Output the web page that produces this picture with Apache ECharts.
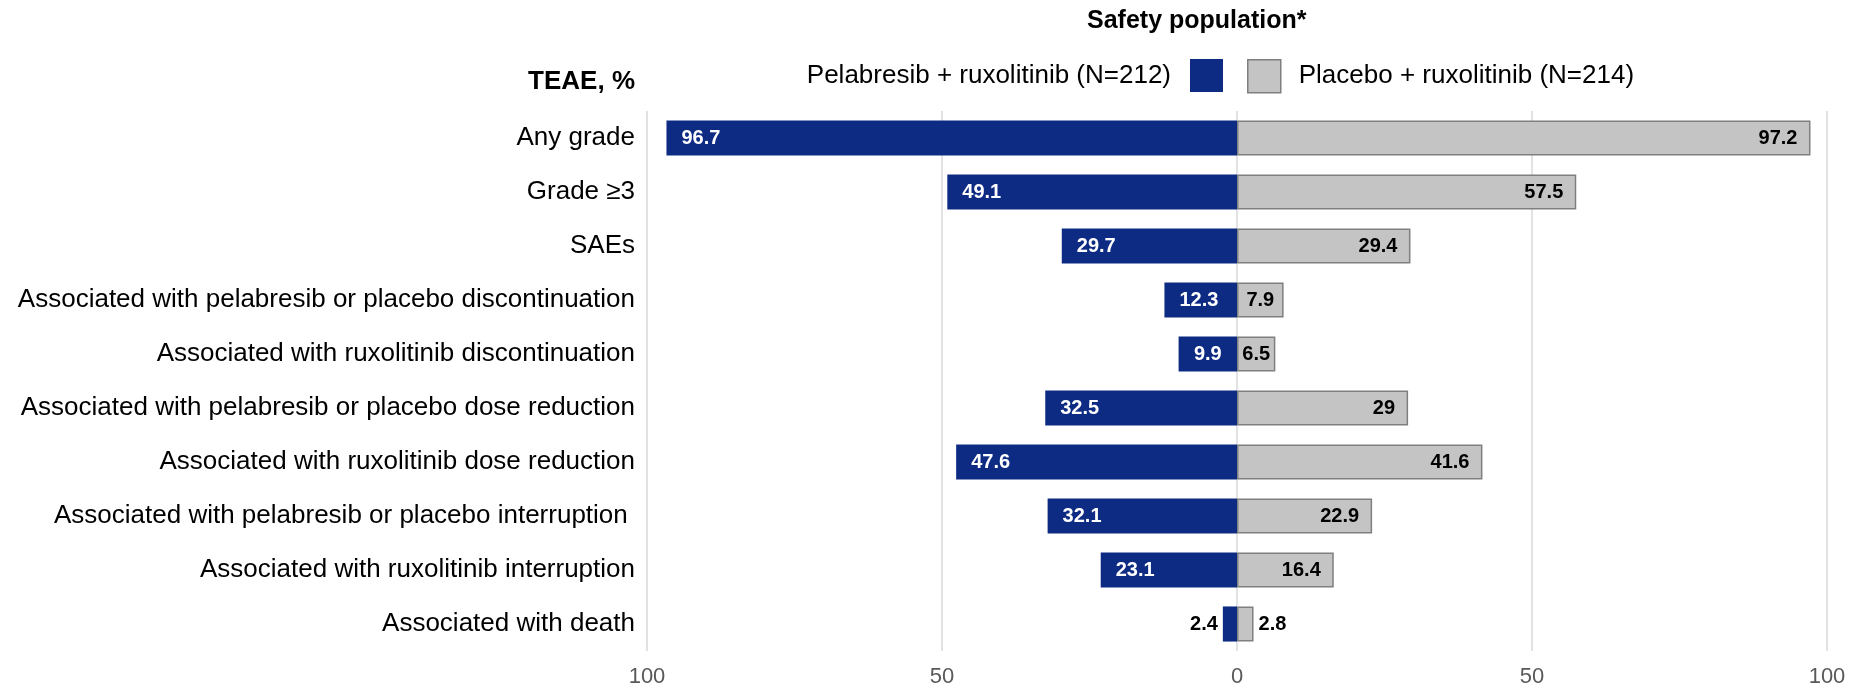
<!DOCTYPE html>
<html>
<head>
<meta charset="utf-8">
<script src="https://cdn.jsdelivr.net/npm/echarts@6/dist/echarts.min.js"></script>
<style>
  html, body { margin: 0; padding: 0; background: #fff; }
  #chart { width: 1857px; height: 688px; }
</style>
</head>
<body>
<div id="chart"></div>
<script>
const categories = [
  'Any grade',
  'Grade \u22653',
  'SAEs',
  'Associated with pelabresib or placebo discontinuation',
  'Associated with ruxolitinib discontinuation',
  'Associated with pelabresib or placebo dose reduction',
  'Associated with ruxolitinib dose reduction',
  'Associated with pelabresib or placebo interruption ',
  'Associated with ruxolitinib interruption',
  'Associated with death'
]
const pelabresib = [96.7, 49.1, 29.7, 12.3, 9.9, 32.5, 47.6, 32.1, 23.1, 2.4]
const placebo = [97.2, 57.5, 29.4, 7.9, 6.5, 29, 41.6, 22.9, 16.4, 2.8]
const seriesNames = ['Pelabresib + ruxolitinib (N=212)', 'Placebo + ruxolitinib (N=214)']
const axisTicks = [-100, -50, 0, 50, 100]

const FONT = '"Liberation Sans", Arial, sans-serif'
const BLUE = '#0e2b84'
const GREY = '#c4c4c4'

const chart = echarts.init(document.getElementById('chart'))

// small values get their label outside / centered
const blueData = pelabresib.map(v => {
  const item = { value: -v }
  if (v < 5) item.label = { position: 'left', color: '#000', distance: 5 }
  else if (v < 11) item.label = { position: 'inside' }
  return item
})
const greyData = placebo.map(v => {
  const item = { value: v }
  if (v < 5) item.label = { position: 'right', distance: 5 }
  else if (v < 11) item.label = { position: 'inside' }
  return item
})

const option = {
  animation: false,
  textStyle: { fontFamily: FONT },
  graphic: [
    {
      type: 'text', left: 1237 - 150, top: 9,
      style: { text: 'Safety population*', font: 'bold 25px ' + FONT, fill: '#000', width: 300, align: 'center' }
    },
    {
      type: 'text', right: 1857 - 635, top: 69,
      style: { text: 'TEAE, %', font: 'bold 26px ' + FONT, fill: '#000' }
    }
  ],
  legend: [
    {
      data: [seriesNames[0]],
      right: 1857 - 1228,
      top: 54,
      align: 'right',
      itemWidth: 33,
      itemHeight: 33,
      icon: 'rect',
      textStyle: { fontSize: 26, color: '#000', fontFamily: FONT, padding: [0, 14, 0, 0] }
    },
    {
      data: [seriesNames[1]],
      left: 1242,
      top: 54,
      align: 'left',
      itemWidth: 33,
      itemHeight: 33,
      icon: 'rect',
      itemStyle: { borderColor: '#7f7f7f', borderWidth: 1.5 },
      textStyle: { fontSize: 26, color: '#000', fontFamily: FONT, padding: [0, 0, 0, 13] }
    }
  ],
  grid: {
    left: 647,
    right: 30,
    top: 111,
    bottom: 37
  },
  xAxis: {
    type: 'value',
    min: axisTicks[0],
    max: axisTicks[axisTicks.length - 1],
    interval: 50,
    axisLine: { show: false },
    axisTick: { show: false },
    splitLine: { lineStyle: { color: '#d9d9d9', width: 1.5 } },
    axisLabel: {
      fontSize: 22,
      color: '#595959',
      margin: 15,
      fontFamily: FONT,
      formatter: v => Math.abs(v)
    }
  },
  yAxis: {
    type: 'category',
    inverse: true,
    data: categories,
    axisLine: { show: false },
    axisTick: { show: false },
    axisLabel: {
      fontSize: 26,
      color: '#000',
      margin: 12,
      fontFamily: FONT
    }
  },
  series: [
    {
      name: seriesNames[0],
      type: 'bar',
      stack: 'teae',
      barCategoryGap: '35%',
      itemStyle: { color: BLUE },
      label: {
        show: true,
        position: 'insideLeft',
        distance: 15,
        color: '#fff',
        fontWeight: 'bold',
        fontSize: 20,
        fontFamily: FONT,
        formatter: p => Math.abs(p.value)
      },
      data: blueData
    },
    {
      name: seriesNames[1],
      type: 'bar',
      stack: 'teae',
      barCategoryGap: '35%',
      itemStyle: { color: GREY, borderColor: '#7f7f7f', borderWidth: 1.5 },
      label: {
        show: true,
        position: 'insideRight',
        distance: 13,
        color: '#000',
        fontWeight: 'bold',
        fontSize: 20,
        fontFamily: FONT
      },
      data: greyData
    }
  ]
}

chart.setOption(option)
</script>
</body>
</html>
